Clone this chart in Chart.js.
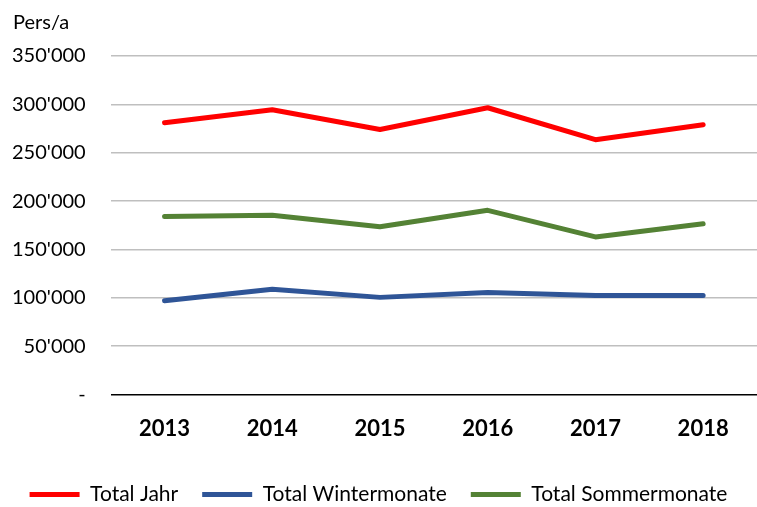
<!DOCTYPE html>
<html>
<head>
<meta charset="utf-8">
<script src="https://cdn.jsdelivr.net/npm/chart.js@4"></script>
<style>
  html, body { margin: 0; padding: 0; background: #fff; }
  #wrap { width: 757px; height: 507px; }
</style>
</head>
<body>
<div id="wrap"><canvas id="chart"></canvas></div>
<script>
// Data
const years = ['2013', '2014', '2015', '2016', '2017', '2018'];
const totalJahr = [281000, 294500, 274000, 296500, 263500, 279000];
const totalWinter = [97000, 109000, 100500, 105500, 102500, 102500];
const totalSommer = [184000, 185500, 173500, 190500, 163000, 176500];
const yTicks = [0, 50000, 100000, 150000, 200000, 250000, 300000, 350000];
const unitLabel = 'Pers/a';

const FONT = 'Lato, "Open Sans", sans-serif';

function fmt(v) {
  if (v === 0) return '-';
  return String(v).replace(/\B(?=(\d{3})+(?!\d))/g, "'");
}

// draws the clipped unit label at top left
const unitPlugin = {
  id: 'unitLabel',
  afterDraw(chart) {
    const ctx = chart.ctx;
    ctx.save();
    ctx.beginPath();
    ctx.rect(0, 0, 72, 45);
    ctx.clip();
    ctx.fillStyle = '#000';
    ctx.font = '20px ' + FONT;
    ctx.textBaseline = 'middle';
    ctx.fillText(unitLabel, 13, 23);
    ctx.restore();
  }
};

const ctx = document.getElementById('chart').getContext('2d');
new Chart(ctx, {
  type: 'line',
  data: {
    labels: years,
    datasets: [
      { label: 'Total Jahr', data: totalJahr, borderColor: '#FF0000', backgroundColor: '#FF0000' },
      { label: 'Total Wintermonate', data: totalWinter, borderColor: '#2F5597', backgroundColor: '#2F5597' },
      { label: 'Total Sommermonate', data: totalSommer, borderColor: '#548235', backgroundColor: '#548235' }
    ]
  },
  options: {
    responsive: true,
    maintainAspectRatio: false,
    animation: false,
    layout: { padding: { top: 56, left: 0, right: 0, bottom: -8 } },
    elements: {
      line: { borderWidth: 5, tension: 0, borderCapStyle: 'round', borderJoinStyle: 'round' },
      point: { radius: 0, hoverRadius: 0 }
    },
    plugins: {
      legend: {
        position: 'bottom',
        labels: {
          font: { family: FONT, size: 21 },
          color: '#000',
          boxWidth: 50,
          boxHeight: 5,
          padding: 24,
          generateLabels(chart) {
            const items = Chart.defaults.plugins.legend.labels.generateLabels(chart);
            items.forEach(it => { it.lineWidth = 0; });
            return items;
          }
        }
      },
      tooltip: { enabled: false }
    },
    scales: {
      x: {
        offset: true,
        grid: { display: false, drawTicks: false },
        border: { display: false },
        ticks: { font: { family: FONT, size: 22, weight: 'bold' }, color: '#000', padding: 21 },
        afterFit(axis) { axis.height -= 3; }
      },
      y: {
        min: 0,
        max: 350000,
        afterBuildTicks(axis) { axis.ticks = yTicks.map(v => ({ value: v })); },
        afterFit(axis) { axis.width -= 13; },
        grid: {
          drawTicks: false,
          lineWidth: 1.5,
          color: ctx => ctx.tick && ctx.tick.value === 0 ? '#000' : '#BFBFBF'
        },
        border: { display: false },
        ticks: {
          font: { family: FONT, size: 20 },
          color: '#000',
          padding: 25,
          callback: v => fmt(v)
        }
      }
    }
  },
  plugins: [unitPlugin]
});
</script>
</body>
</html>
